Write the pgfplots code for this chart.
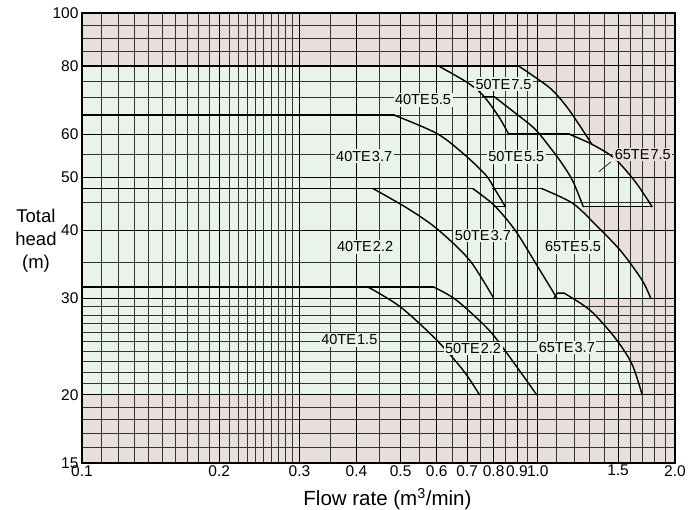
\documentclass[border=0pt]{standalone}
\usepackage{fontspec}
\setmainfont{Liberation Sans}
\usepackage{pgfplots}
\pgfplotsset{compat=1.18}
\definecolor{greenfill}{RGB}{233,243,234}
\definecolor{pinkbg}{RGB}{232,222,220}

\begin{document}
\begin{tikzpicture}[
    pump/.style={black, line width=1.4pt, line join=round, line cap=round, mark=none},
    curve/.style={pump, smooth, tension=0.5},
  ]
\begin{axis}[
  set layers,
  width=593pt, height=450pt, scale only axis,
  xmode=log, ymode=log,
  xmin=0.1, xmax=2.0, ymin=15, ymax=100,
  xtick={0.1,0.2,0.3,0.4,0.5,0.6,0.7,0.8,0.9,1.0,1.5,2.0},
  xticklabels={0.1,0.2,0.3,0.4,0.5,0.6,0.7,0.8,0.9,1.0,1.5,2.0},
  minor xtick={0.11,0.12,0.13,0.14,0.15,0.16,0.17,0.18,0.19,
               0.21,0.22,0.23,0.24,0.25,0.26,0.27,0.28,0.29,
               0.35,0.45,0.55,0.65,0.75,0.85,0.95,
               1.1,1.2,1.3,1.4,1.6,1.7,1.8,1.9},
  ytick={15,20,30,40,50,60,80,100},
  yticklabels={15,20,30,40,50,60,80,100},
  minor ytick={16,17,18,19,21,22,23,24,25,26,27,28,29,35,45,55,65,70,75,85,90,95},
  grid=both,
  major grid style={black, line width=0.9pt},
  minor grid style={black!80, line width=0.7pt},
  major tick length=0pt, minor tick length=0pt,
  axis line style={black, line width=1.2pt},
  tick label style={font=\fontsize{15.5}{17}\selectfont},
  xticklabel style={inner sep=2pt},
  /pgf/number format/assume math mode=true,
  xlabel={Flow rate (m\textsuperscript{3}/min)},
  xlabel style={font=\fontsize{20.5}{22}\selectfont, at={(axis description cs:0.515,-0.08)}, anchor=center},
  clip=false,
]
% backgrounds
\addplot[fill=pinkbg, draw=none, on layer=axis background] coordinates {
  (0.1,15) (2.0,15) (2.0,100) (0.1,100)};
\addplot[fill=greenfill, draw=none, on layer=axis background] coordinates {
  (0.1,20) (0.1,80) (0.907,80) (0.986,76.3) (1.075,72.3) (1.172,66.4) (1.314,57.5)
  (1.473,54.2) (1.636,49.1) (1.781,44.2) (1.258,44.2) (1.258,43.5) (1.349,40.7)
  (1.524,36.6) (1.694,32.4) (1.77,30) (1.20,30) (1.302,28.56) (1.473,25.5)
  (1.607,22.81) (1.694,20)};

% straight (shut-off and lower limit) lines
\addplot[pump] coordinates {(0.1,80) (0.907,80)};
\addplot[pump] coordinates {(0.1,65) (0.4845,65)};
\addplot[pump] coordinates {(0.757,70.3) (0.802,70.3)};
\addplot[pump] coordinates {(0.863,60) (1.172,60)};
\addplot[pump] coordinates {(0.1,47.7) (0.72,47.7)};
\addplot[pump] coordinates {(0.795,47.7) (1.02,47.7)};
\addplot[pump] coordinates {(0.1,31.5) (0.591,31.5)};
\addplot[pump] coordinates {(0.801,30) (1.77,30)};
\addplot[pump] coordinates {(0.801,44.2) (0.849,44.2)};
\addplot[pump] coordinates {(1.258,44.2) (1.781,44.2)};
\addplot[pump] coordinates {(0.1,20) (1.694,20)};
\addplot[pump] coordinates {(1.084,30) (1.103,30.7) (1.142,30.7)};

% pump curves
% 50TE7.5
\addplot[curve] coordinates {(0.907,80) (0.986,76.3) (1.075,72.3) (1.172,66.4) (1.314,57.5)};
% 40TE5.5
\addplot[curve] coordinates {(0.605,80) (0.697,74.8) (0.757,70.8) (0.821,64.6) (0.863,60)};
% 40TE3.7
\addplot[curve] coordinates {(0.4845,65) (0.6,60.2) (0.686,55.3) (0.769,50.5) (0.808,47.3) (0.849,44.2)};
% 50TE5.5
\addplot[curve] coordinates {(0.802,70.3) (0.892,65.6) (0.986,61.3) (1.075,56.1) (1.132,52.9) (1.194,49.2) (1.258,44.2)};
% 65TE7.5
\addplot[curve] coordinates {(1.172,60) (1.314,57.5) (1.473,54.2) (1.636,49.1) (1.781,44.2)};
% 50TE3.7
\addplot[curve] coordinates {(0.72,47.7) (0.801,44.5) (0.892,40.0) (1.0,34.3) (1.103,30)};
% 40TE2.2
\addplot[curve] coordinates {(0.435,47.7) (0.5175,43.9) (0.6,40.3) (0.708,35.3) (0.801,30)};
% 65TE5.5
\addplot[curve] coordinates {(1.02,47.7) (1.194,44.8) (1.349,40.7) (1.524,36.6) (1.694,32.4) (1.77,30)};
% 50TE2.2
\addplot[curve] coordinates {(0.591,31.5) (0.663,29.8) (0.782,26.25) (0.878,23.13) (0.994,20)};
% 40TE1.5
\addplot[curve] coordinates {(0.424,31.5) (0.50,28.95) (0.60,25.18) (0.686,22.17) (0.745,20)};
% 65TE3.7
\addplot[curve] coordinates {(1.142,30.7) (1.302,28.56) (1.473,25.5) (1.607,22.81) (1.694,20)};
% leader for 65TE7.5
\addplot[black, line width=0.6pt, mark=none] coordinates {(1.361,51.2) (1.447,53.4)};

% labels
\tikzset{lab/.style={fill=greenfill, inner sep=1.5pt, font=\fontsize{14.5}{16}\selectfont}}
\node[lab] at (axis cs:0.560,69.3) {40TE\kern0.08em5.5};
\node[lab] at (axis cs:0.841,74.1) {50TE\kern0.08em7.5};
\node[lab] at (axis cs:0.416,54.7) {40TE\kern0.08em3.7};
\node[lab] at (axis cs:0.897,54.5) {50TE\kern0.08em5.5};
\node[lab, fill=pinkbg] at (axis cs:1.70,55.1) {65TE\kern0.08em7.5};
\node[lab] at (axis cs:0.418,37.3) {40TE\kern0.08em2.2};
\node[lab] at (axis cs:0.758,39.2) {50TE\kern0.08em3.7};
\node[lab] at (axis cs:1.195,37.3) {65TE\kern0.08em5.5};
\node[lab] at (axis cs:0.386,25.2) {40TE\kern0.08em1.5};
\node[lab] at (axis cs:0.721,24.3) {50TE\kern0.08em2.2};
\node[lab] at (axis cs:1.158,24.4) {65TE\kern0.08em3.7};

\node[align=center, font=\fontsize{18.5}{23}\selectfont] at (axis description cs:-0.0776,0.493) {Total\\head\\(m)};
\end{axis}
\pgfresetboundingbox
\path (current axis.south west) ++(-82pt,-47pt) rectangle ++(698pt,510pt);
\end{tikzpicture}
\end{document}
